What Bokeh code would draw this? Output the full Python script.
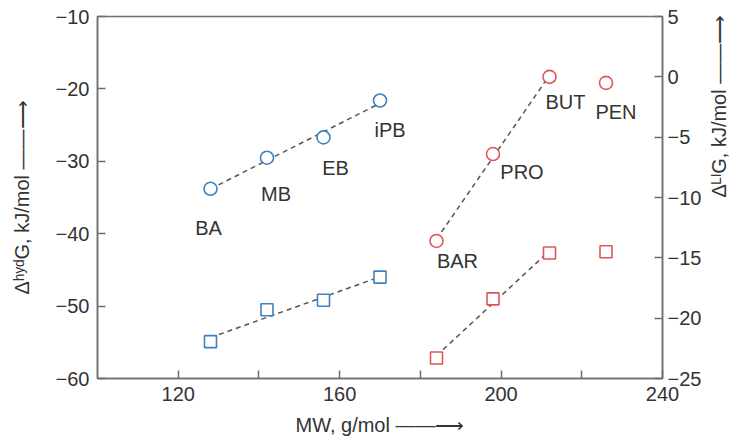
import math
import numpy as np
from bokeh.plotting import figure
from bokeh.models import Range1d, LinearAxis, FixedTicker, ColumnDataSource
from bokeh.core.properties import value
from bokeh.embed import file_html
from bokeh.resources import INLINE

# ---- data ----
mw_blue = [128, 142, 156, 170]
names_blue = ["BA", "MB", "EB", "iPB"]
hyd_circle = [-33.8, -29.5, -26.7, -21.6]
hyd_square = [-54.9, -50.5, -49.2, -46.0]

mw_red = [184, 198, 212, 226]
names_red = ["BAR", "PRO", "BUT", "PEN"]
li_circle = [-13.6, -6.4, 0.0, -0.5]
li_square = [-23.3, -18.4, -14.6, -14.5]

x_ticks = [120, 140, 160, 180, 200, 220, 240]
x_tick_labels = ["120", "", "160", "", "200", "", "240"]
y_left_ticks = [-60, -50, -40, -30, -20, -10]
y_right_ticks = [-25, -20, -15, -10, -5, 0, 5]

# ---- styles ----
FONT = "Liberation Sans"
FS = "20px"
BLUE = "#3f80c0"
RED = "#e05656"
AX = "#6e6e6e"
TXT = "#333333"

p = figure(width=746, height=445, output_backend="svg", toolbar_location=None,
           x_range=Range1d(100, 240), y_range=Range1d(-60, -10),
           min_border_left=97, min_border_right=84, min_border_top=16,
           min_border_bottom=67, x_axis_location="below")
p.extra_y_ranges = {"right": Range1d(-25, 5)}
p.grid.visible = False
p.outline_line_color = AX
p.outline_line_width = 1.5
p.background_fill_color = "white"
p.border_fill_color = "white"

def minus(v):
    return str(v).replace("-", "\u2212")

def style_axis(ax):
    ax.axis_line_color = AX
    ax.axis_line_width = 1.5
    ax.major_tick_line_color = AX
    ax.major_tick_line_width = 1.5
    ax.major_tick_in = 8
    ax.major_tick_out = 0
    ax.minor_tick_line_color = None
    ax.major_label_text_font = FONT
    ax.major_label_text_font_size = FS
    ax.major_label_text_color = TXT
    ax.axis_label_text_font = FONT
    ax.axis_label_text_font_size = FS
    ax.axis_label_text_font_style = "normal"
    ax.axis_label_text_color = TXT

ARROW = "\u2014\u2014\u27f6"

xa = p.xaxis[0]
style_axis(xa)
xa.ticker = FixedTicker(ticks=x_ticks)
xa.major_label_overrides = {t: l for t, l in zip(x_ticks, x_tick_labels)}
xa.major_label_standoff = 8
xa.axis_label = "MW, g/mol " + ARROW
xa.axis_label_standoff = 10

ya = p.yaxis[0]
style_axis(ya)
ya.ticker = FixedTicker(ticks=y_left_ticks)
ya.major_label_overrides = {t: minus(t) for t in y_left_ticks}
ya.major_label_standoff = 8
ya.axis_label = "\u0394\u02b0\u02b8\u1d48G, kJ/mol " + ARROW
ya.axis_label_standoff = 20

ra = LinearAxis(y_range_name="right")
style_axis(ra)
ra.ticker = FixedTicker(ticks=y_right_ticks)
ra.major_label_overrides = {t: minus(t) for t in y_right_ticks}
ra.major_label_standoff = 5
ra.axis_label = "\u0394\u1d38\u1d35G, kJ/mol " + ARROW
ra.axis_label_standoff = 15
try:
    ra.axis_label_orientation = math.pi / 2
except Exception:
    pass
p.add_layout(ra, "right")

# ---- dashed fit lines ----
def fit_line(xs, ys, y_range_name="default"):
    k, b = np.polyfit(xs, ys, 1)
    xx = [xs[0], xs[-1]]
    yy = [k * xx[0] + b, k * xx[1] + b]
    p.line(xx, yy, line_color="#555555", line_width=1.5, line_dash="5 4",
           y_range_name=y_range_name)

fit_line(mw_blue, hyd_circle)
fit_line(mw_blue, hyd_square)
fit_line(mw_red[:3], li_circle[:3], "right")
fit_line(mw_red[:3], li_square[:3], "right")

# ---- markers ----
p.scatter(mw_blue, hyd_circle, marker="circle", size=13, fill_color="white",
          line_color=BLUE, line_width=1.6)
p.scatter(mw_blue, hyd_square, marker="square", size=12, fill_color="white",
          line_color=BLUE, line_width=1.6)
p.scatter(mw_red, li_circle, marker="circle", size=13, fill_color="white",
          line_color=RED, line_width=1.6, y_range_name="right")
p.scatter(mw_red, li_square, marker="square", size=12, fill_color="white",
          line_color=RED, line_width=1.6, y_range_name="right")

# ---- point labels (pixel offsets from the circles) ----
blue_dx = [-2, 9, 12, 10]
blue_dy = [39, 36, 31, 30]
red_dx = [21, 29, 16, 10]
red_dy = [20, 18, 25, 29]

src_b = ColumnDataSource(dict(x=mw_blue, y=hyd_circle, t=names_blue,
                              dx=blue_dx, dy=blue_dy))
src_r = ColumnDataSource(dict(x=mw_red, y=li_circle, t=names_red,
                              dx=red_dx, dy=red_dy))
for src, rn in ((src_b, "default"), (src_r, "right")):
    p.text(x="x", y="y", text="t", x_offset="dx", y_offset="dy", source=src,
           y_range_name=rn, text_align="center", text_baseline="middle",
           text_font=value(FONT), text_font_size=FS, text_color=TXT)

open("out.html", "w").write(file_html(p, INLINE))
